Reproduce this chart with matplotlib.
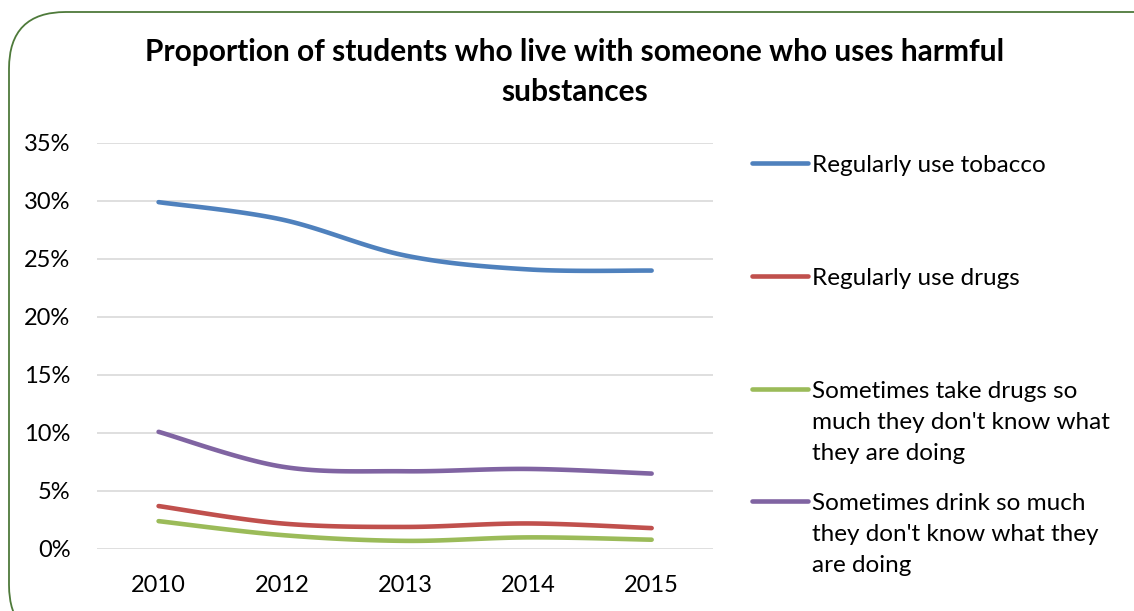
import numpy as np
import matplotlib.pyplot as plt
from matplotlib.patches import FancyBboxPatch
from matplotlib.lines import Line2D

plt.rcParams['font.family'] = ['Lato', 'DejaVu Sans']

years = ['2010', '2012', '2013', '2014', '2015']
tobacco = [29.9, 28.4, 25.3, 24.1, 24.0]
drugs = [3.7, 2.2, 1.9, 2.2, 1.8]
take_drugs = [2.4, 1.2, 0.7, 1.0, 0.8]
drink = [10.1, 7.1, 6.7, 6.9, 6.5]

labels = ['Regularly use tobacco',
          'Regularly use drugs',
          "Sometimes take drugs so\nmuch they don't know what\nthey are doing",
          "Sometimes drink so much\nthey don't know what they\nare doing"]
colors = ['#4F81BD', '#C0504D', '#9BBB59', '#8064A2']


def smooth(y, n=30):
    # Excel-style smoothed line: cubic Bezier through the points
    p = np.column_stack([np.arange(len(y)), y]).astype(float)
    pts = []
    for i in range(len(p) - 1):
        p0 = p[i - 1] if i > 0 else p[i]
        p3 = p[i + 2] if i + 2 < len(p) else p[i + 1]
        c1 = p[i] + (p[i + 1] - p0) / 6
        c2 = p[i + 1] - (p3 - p[i]) / 6
        t = np.linspace(0, 1, n)[:, None]
        seg = ((1 - t) ** 3 * p[i] + 3 * (1 - t) ** 2 * t * c1
               + 3 * (1 - t) * t ** 2 * c2 + t ** 3 * p[i + 1])
        pts.append(seg if i == 0 else seg[1:])
    pts = np.vstack(pts)
    return pts[:, 0], pts[:, 1]


fig = plt.figure(figsize=(11.34, 6.11), dpi=100)
ax = fig.add_axes([0.0855, 0.1015, 0.5435, 0.6645])

series = [tobacco, drugs, take_drugs, drink]
for vals, c in zip(series, colors):
    xs, ys = smooth(vals)
    ax.plot(xs, ys, color=c, lw=3.3, solid_capstyle='round')

ax.set_xlim(-0.5, len(years) - 0.5)
ax.set_ylim(0, 35)
ax.set_yticks(range(0, 36, 5))
ax.set_yticklabels([f'{v}%' for v in range(0, 36, 5)], fontsize=17)
ax.set_xticks(range(len(years)))
ax.set_xticklabels(years, fontsize=17)
ax.tick_params(axis='x', length=0, pad=19)
ax.tick_params(axis='y', length=0, pad=19)
ax.grid(axis='y', color='#D9D9D9', lw=1.2)
ax.set_axisbelow(True)
for s in ax.spines.values():
    s.set_visible(False)

fig.text(0.507, 0.882, 'Proportion of students who live with someone who uses harmful\nsubstances',
         ha='center', va='center', fontsize=21.5, fontweight='bold', linespacing=1.55)

# legend drawn by hand to match the spacing
legend_y = [163, 276, 389, 501]
for lab, c, yp in zip(labels, colors, legend_y):
    yf = 1 - yp / 611
    fig.add_artist(Line2D([752 / 1134, 808 / 1134], [yf, yf], color=c, lw=3.3,
                          solid_capstyle='round'))
    fig.text(812 / 1134, yf + 8 / 611, lab, ha='left', va='top', fontsize=17.5,
             linespacing=1.6)

border = FancyBboxPatch((9 / 1134, -0.05), 1.2, (611 - 12) / 611 + 0.05,
                        boxstyle='round,pad=0,rounding_size=0.05',
                        transform=fig.transFigure, fill=False,
                        edgecolor='#4E7A3A', lw=1.3, mutation_aspect=1134 / 611)
fig.add_artist(border)

fig.savefig('out.png', dpi=100)
